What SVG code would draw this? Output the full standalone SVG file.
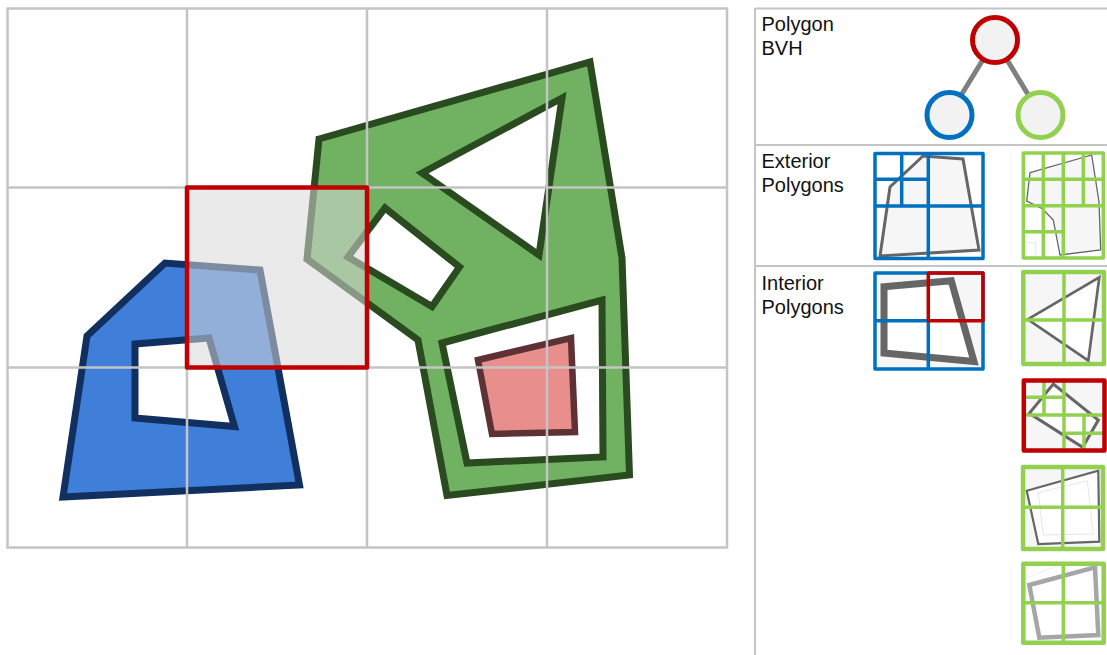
<svg xmlns="http://www.w3.org/2000/svg" width="1107" height="655" viewBox="0 0 1107 655">
<style>
text{font-family:"Liberation Sans",Arial,sans-serif;font-size:20px;fill:#111}
.rule{stroke:#c4c4c4;fill:none}
.b{fill:none;stroke:#0070c0;stroke-width:3.500;stroke-linejoin:round}
.g{fill:none;stroke:#92d050;stroke-width:3.500;stroke-linejoin:round}
.gt{fill:none;stroke:#92d050;stroke-width:4.500;stroke-linejoin:round}
.r{fill:none;stroke:#c00000;stroke-width:3.500;stroke-linejoin:round}
.bg{fill:#f6f6f6}
.p{fill:#fff;stroke:#666;stroke-linejoin:miter}
.pf{fill:#f6f6f6;stroke:#666;stroke-linejoin:miter}
.node{fill:#f2f2f2;stroke-width:5}
</style>
<g id="map">
<path fill="#3f7fd9" fill-rule="evenodd" stroke="#12305f" stroke-width="7" stroke-linejoin="miter" d="M63 497L87 336L165 263L260 270L299.500 485ZM135 344L209 338L234.500 426.500L135 418Z"/>
<path fill="#70b262" fill-rule="evenodd" stroke="#2a4a20" stroke-width="7" stroke-linejoin="miter" d="M319 139L590 62L622 258L629.500 475L447 495.500L418 340L307 259ZM422 173L562 98L539 255ZM385 208L459.500 267L432 306.500L348 257ZM442 343L602 300L603 457L467 463Z"/>
<path fill="#e88e8c" stroke="#5e3234" stroke-width="6.500" d="M478 360L571 338L575 432L492 434Z"/>
</g>
<g id="grid" class="rule" stroke-width="2.500">
<rect x="7.500" y="8.500" width="719.500" height="539"/>
<path d="M187 8V547M367 8V547M547 8V547M7 187.500H727M7 367.500H727"/>
</g>
<g id="selection">
<rect x="187" y="187.500" width="180" height="180" fill="#d8d8d8" fill-opacity=".54" stroke="#c00000" stroke-width="4.500" stroke-linejoin="round"/>
</g>
<g id="panel" class="rule" stroke-width="2">
<path d="M755 8V655M755 8.500H1107M755 145H1107M755 266H1107"/>
</g>
<g id="labels">
<text x="761.500" y="31">Polygon</text><text x="761.500" y="55">BVH</text>
<text x="761.500" y="168">Exterior</text><text x="761.500" y="192">Polygons</text>
<text x="761.500" y="290">Interior</text><text x="761.500" y="314">Polygons</text>
</g>
<g id="connectors" stroke="#7f7f7f" stroke-width="5" fill="none">
<path d="M995 40L949 115M995 40L1040.500 115"/>
</g>
<g id="node-root"><circle class="node" cx="995" cy="40" r="22.500" stroke="#c00000"/></g>
<g id="node-left"><circle class="node" cx="949.500" cy="115" r="22.500" stroke="#0070c0"/></g>
<g id="node-right"><circle class="node" cx="1040.500" cy="115" r="22.500" stroke="#92d050"/></g>
<g id="exterior-left">
<path class="pf" stroke-width="3" d="M880 256L890 187L923 156L963 159L979 250Z"/>
<rect class="b" x="875" y="153.500" width="108" height="105"/>
<path class="b" d="M875 206H983M928.300 153V258M875 179.300H928M901.700 153V206"/>
</g>
<g id="exterior-right">
<path class="pf" stroke-width="1.300" d="M1030 172.700L1091.700 155L1099 201.700L1100.700 250L1060 255L1053.300 220L1041.700 208.300L1026.700 201Z"/>
<path fill="none" stroke="#ddd" stroke-width=".8" d="M1026 242.700H1035.700V255"/>
<path class="g" d="M1043.300 153V258M1063.300 153V258M1083.300 153V205.700M1023 179.300H1103M1023 205.700H1103M1023 231.700H1063.300"/>
<rect class="g" x="1023.300" y="153" width="80" height="105" stroke-width="4"/>
</g>
<g id="interior-1">
<rect class="bg" x="875" y="273" width="108" height="96"/>
<path class="p" stroke-width="7" d="M884 286.700L951.300 280.700L974 361.500L884 353Z"/>
<rect class="b" x="875" y="273" width="108" height="96"/>
<path class="b" d="M875 320.700H928.300M928.300 320.700V369"/>
<rect class="r" x="928.300" y="273" width="54.700" height="47.700"/>
</g>
<g id="interior-2">
<rect class="bg" x="1023.300" y="272" width="80.700" height="92"/>
<path class="p" stroke-width="2.700" d="M1027.700 319.300L1099.300 277.300L1088.300 360.700Z"/>
<rect class="gt" x="1023.300" y="272" width="80.700" height="92"/>
<path class="g" d="M1064 272V364M1023 320H1104"/>
</g>
<g id="interior-3">
<rect class="bg" x="1024" y="380.500" width="80.500" height="69.500"/>
<path class="p" stroke-width="3" d="M1053.300 384L1098.300 420L1082.700 447.300L1029.300 413.300Z"/>
<path class="g" d="M1044 380V415M1064 380V450M1084 415V450M1024 397.300H1064M1024 415H1104M1064 433.300H1104"/>
<rect x="1023.800" y="380.500" width="80.700" height="70" fill="none" stroke="#c00000" stroke-width="4.500" stroke-linejoin="round"/>
</g>
<g id="interior-4">
<rect class="bg" x="1023" y="467" width="80" height="82"/>
<path class="p" stroke-width="2.200" d="M1026.700 490.700L1098.300 470.700L1099.300 541.700L1038.300 544Z"/>
<path fill="none" stroke="#e0e0e0" stroke-width=".8" d="M1038.300 492.700L1087.300 480.700L1093.300 534L1043.300 535Z"/>
<rect class="gt" x="1023" y="467" width="80" height="82"/>
<path class="g" d="M1062.700 467V549M1023 507.300H1103"/>
</g>
<g id="interior-5">
<path fill="none" stroke="#e8e8e8" stroke-width=".8" d="M1026 578.300L1055 566.700"/>
<path fill="#fff" stroke="#a6a6a6" stroke-width="4.500" d="M1029.300 585L1095 567.300L1098.300 635L1039.300 637.700Z"/>
<rect class="gt" x="1023.300" y="563.700" width="80.400" height="79"/>
<path class="g" d="M1063.300 564V642.700M1023 602.700H1103.700"/>
</g>
</svg>
